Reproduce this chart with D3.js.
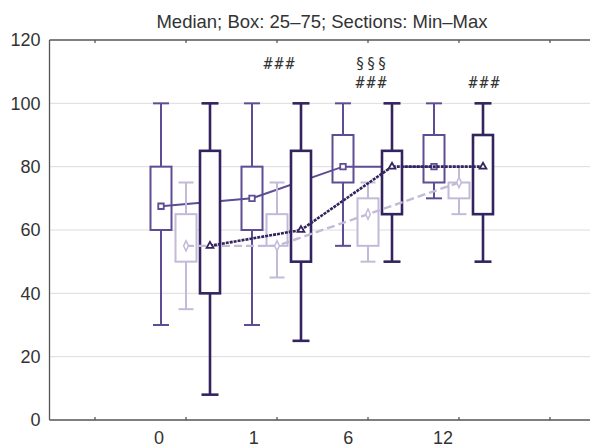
<!DOCTYPE html>
<html>
<head>
<meta charset="utf-8">
<script src="https://cdn.jsdelivr.net/npm/d3@7"></script>
<style>
  body { margin: 0; background: #fff; }
  svg text { font-family: "Liberation Sans", Arial, sans-serif; fill: #333; }
</style>
</head>
<body>
<div id="chart"></div>
<script>
// groups on the x axis
var groups = ["0", "1", "6", "12"];
var yTicks = [0, 20, 40, 60, 80, 100, 120];

// per group: [min, q25, median, q75, max]
var seriesA = [[30, 60, 67.5, 80, 100], [30, 60, 70, 80, 100], [55, 75, 80, 90, 100], [70, 75, 80, 90, 100]];
var seriesB = [[35, 50, 55, 65, 75], [45, 55, 55, 65, 75], [50, 55, 65, 70, 75], [65, 70, 75, 75, 80]];
var seriesC = [[8, 40, 55, 85, 100], [25, 50, 60, 85, 100], [50, 65, 80, 85, 100], [50, 65, 80, 90, 100]];

// significance marks: group index, row, text
var marks = [
  { g: 1, row: 0, text: "###" },
  { g: 2, row: 0, text: "§§§" },
  { g: 2, row: 1, text: "###" },
  { g: 3, row: 1, text: "###" }
];

var width = 590, height = 447;

var svg = d3.select("#chart").append("svg")
  .attr("width", width)
  .attr("height", height);

var yScale = d3.scaleLinear().domain([0, 120]).range([420, 40]);
// tick marks sit on the middle box of each group
var xScale = d3.scaleLinear().domain([-1, 4]).range([95, 550]);
// category labels are drawn a bit left of the ticks in the original
var xLabel = d3.scaleLinear().domain([0, 3]).range([159, 443]);

var left = xScale(-1.5), right = 600;

// grid lines
svg.append("g")
  .selectAll("line")
  .data(yTicks.slice(1, -1))
  .enter().append("line")
  .attr("x1", left).attr("x2", right)
  .attr("y1", function(d) { return yScale(d); })
  .attr("y2", function(d) { return yScale(d); })
  .style("stroke", "#dcdcdc")
  .style("stroke-width", 1);

// y axis
var yAxis = svg.append("g")
  .attr("transform", "translate(" + left + ",0)")
  .call(d3.axisLeft(yScale).tickValues(yTicks).tickSize(0).tickPadding(9));
yAxis.select(".domain").remove();
yAxis.selectAll("text").style("font-size", "18px").style("fill", "#333");

// x axis labels
svg.append("g")
  .selectAll("text")
  .data(groups)
  .enter().append("text")
  .attr("x", function(d, i) { return xLabel(i); })
  .attr("y", 444)
  .attr("text-anchor", "middle")
  .style("font-size", "18px")
  .text(function(d) { return d; });

// frame
var frame = svg.append("g").style("stroke", "#555").style("stroke-width", 1.3).style("fill", "none");
frame.append("line").attr("x1", left).attr("x2", left).attr("y1", yScale(120)).attr("y2", yScale(0));
frame.append("line").attr("x1", left).attr("x2", right).attr("y1", yScale(120)).attr("y2", yScale(120));
frame.append("line").attr("x1", left).attr("x2", right).attr("y1", yScale(0)).attr("y2", yScale(0));

// small inward tick marks on top and bottom
var tickIdx = d3.range(-1, 5);
frame.selectAll(".tb").data(tickIdx).enter().append("line")
  .attr("x1", function(d) { return xScale(d); })
  .attr("x2", function(d) { return xScale(d); })
  .attr("y1", yScale(0)).attr("y2", yScale(0) - 3);
frame.selectAll(".tt").data(tickIdx).enter().append("line")
  .attr("x1", function(d) { return xScale(d); })
  .attr("x2", function(d) { return xScale(d); })
  .attr("y1", yScale(120)).attr("y2", yScale(120) + 3);

svg.append("text")
  .attr("x", 322)
  .attr("y", 28)
  .attr("text-anchor", "middle")
  .style("font-size", "18.5px")
  .text("Median; Box: 25\u201375; Sections: Min\u2013Max");

function drawBoxes(data, offset, color, sw, boxW, capW) {
  var g = svg.append("g");
  data.forEach(function(d, i) {
    var cx = xScale(i) + offset;
    // whiskers
    g.append("line").attr("x1", cx).attr("x2", cx)
      .attr("y1", yScale(d[4])).attr("y2", yScale(d[3]))
      .style("stroke", color).style("stroke-width", sw);
    g.append("line").attr("x1", cx).attr("x2", cx)
      .attr("y1", yScale(d[1])).attr("y2", yScale(d[0]))
      .style("stroke", color).style("stroke-width", sw);
    // caps
    [d[0], d[4]].forEach(function(v) {
      g.append("line").attr("x1", cx - capW / 2).attr("x2", cx + capW / 2)
        .attr("y1", yScale(v)).attr("y2", yScale(v))
        .style("stroke", color).style("stroke-width", sw);
    });
    // box
    g.append("rect")
      .attr("x", cx - boxW / 2)
      .attr("y", yScale(d[3]))
      .attr("width", boxW)
      .attr("height", yScale(d[1]) - yScale(d[3]))
      .style("fill", "#fff")
      .style("stroke", color).style("stroke-width", sw);
  });
}

function drawLine(data, offset, color, sw, dash) {
  var line = d3.line()
    .x(function(d, i) { return xScale(i) + offset; })
    .y(function(d) { return yScale(d[2]); });
  svg.append("path")
    .datum(data)
    .attr("d", line)
    .style("fill", "none")
    .style("stroke", color)
    .style("stroke-width", sw)
    .style("stroke-dasharray", dash);
}

function drawMarkers(data, offset, color, type, size) {
  svg.append("g").selectAll("path")
    .data(data)
    .enter().append("path")
    .attr("transform", function(d, i) {
      return "translate(" + (xScale(i) + offset) + "," + yScale(d[2]) + ")" + (type == d3.symbolDiamond ? " scale(0.8,1)" : "");
    })
    .attr("d", d3.symbol().type(type).size(size))
    .style("fill", "#fff")
    .style("stroke", color)
    .style("stroke-width", 1.8);
}

var colA = "#5e4d94", colB = "#c4bad8", colC = "#33245f";
var offA = -25, offB = 0, offC = 24;

drawBoxes(seriesA, offA, colA, 2, 21, 16);
drawLine(seriesA, offA, colA, 2, null);
drawMarkers(seriesA, offA, colA, d3.symbolSquare, 30);

drawBoxes(seriesB, offB, colB, 2, 21, 15);
drawBoxes(seriesC, offC, colC, 2.6, 20, 17);

drawLine(seriesB, offB, colB, 2.4, "8,4");
drawLine(seriesC, offC, colC, 2.6, "3,1");
drawMarkers(seriesB, offB, colB, d3.symbolDiamond, 30);
drawMarkers(seriesC, offC, colC, d3.symbolTriangle, 20);

// significance marks
svg.append("g")
  .selectAll("text")
  .data(marks)
  .enter().append("text")
  .attr("x", function(d) { return xScale(d.g) + (d.g == 1 ? 3 : (d.g == 3 ? offC + 2 : 4)); })
  .attr("y", function(d) { return 69 + d.row * 19; })
  .attr("text-anchor", "middle")
  .style("font-family", "'DejaVu Sans Mono', monospace")
  .style("font-size", "15px")
  .style("letter-spacing", "2px")
  .style("fill", "#333")
  .text(function(d) { return d.text; });
</script>
</body>
</html>
